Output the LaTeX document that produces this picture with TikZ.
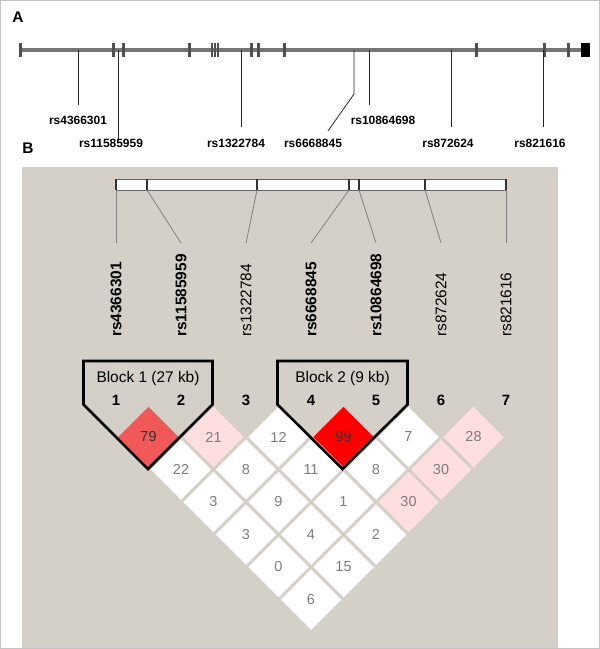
\documentclass[tikz,border=0pt]{standalone}
\usepackage{fontspec}
\setmainfont{Liberation Sans}
\usetikzlibrary{positioning,shapes.geometric}
\definecolor{panelgray}{RGB}{212,208,200}
\definecolor{framegray}{RGB}{196,196,196}
\definecolor{genegray}{RGB}{118,118,118}
\definecolor{exongray}{RGB}{80,80,80}
\definecolor{ldred}{RGB}{242,88,88}
\definecolor{ldpink}{RGB}{255,222,224}
\definecolor{numgray}{RGB}{125,125,125}
\begin{document}
\begin{tikzpicture}[x=1bp, y=-1bp,
    panel/.style={font=\fontsize{15.5}{16}\selectfont\bfseries, inner sep=0pt},
    snplabel/.style={font=\fontsize{12}{12}\selectfont\bfseries, inner sep=0pt},
    snpname/.style={font=\fontsize{15.5}{16}\selectfont, rotate=90, anchor=west, inner sep=0pt},
    ldcell/.style={shape=diamond, aspect=1, minimum size=65bp, inner sep=0pt,
        draw=panelgray, line width=2.2bp, font=\fontsize{14.5}{15}\selectfont, text=numgray},
    blockline/.style={line width=2.6bp, line join=miter},
    ]
    \useasboundingbox (0,0) rectangle (600,649);
    % frame and panel B background
    \fill [white] (0,0) rectangle (600,649);
    \fill [panelgray] (22,167) rectangle (558,648);
    \draw [framegray, line width=1bp] (0.5,0.5) rectangle (599.5,648.5);

    % panel A: gene structure
    \node [panel] (labA) at (18,17) {A};
    \draw [genegray, line width=3.4bp] (20,50) -- (586,50);
    \foreach \x in {20,113,123,189,251,258,284,476,544,568}
        \draw [exongray, line width=3bp] (\x,43) -- (\x,57);
    \foreach \x in {211.8,215,218.2}
        \draw [exongray, line width=1.7bp] (\x,43) -- (\x,57);
    \fill [black] (581,43) rectangle (590,57);

    \node [snplabel] (a1) at (78,120) {rs4366301};
    \node [snplabel] (a2) at (111,143) {rs11585959};
    \node [snplabel] (a3) at (236,143) {rs1322784};
    \node [snplabel] (a4) at (313,143) {rs6668845};
    \node [snplabel] (a5) at (383,120) {rs10864698};
    \node [snplabel] (a6) at (448,143) {rs872624};
    \node [snplabel] (a7) at (540,143) {rs821616};
    \coordinate (g1) at (78,50);  \coordinate (e1) at (78,105);
    \coordinate (g2) at (118,50); \coordinate (e2) at (118,141);
    \coordinate (g3) at (241,50); \coordinate (e3) at (241,127);
    \coordinate (g4) at (354,50); \coordinate (k4) at (354,94); \coordinate (e4) at (328,131);
    \coordinate (g5) at (369,50); \coordinate (e5) at (369,105);
    \coordinate (g6) at (451,50); \coordinate (e6) at (451,127);
    \coordinate (g7) at (543,50); \coordinate (e7) at (543,127);
    \foreach \n in {1,2,3,5,6,7}
        \draw [black!85, line width=0.8bp] (g\n) -- (e\n);
    \draw [black!85, line width=0.8bp] (g4) -- (k4) -- (e4);

    % panel B: marker map
    \node [panel] (labB) at (28,148) {B};
    \draw [fill=white, draw=black!60, line width=1bp] (116,179) rectangle (506,190);
    \foreach \x [count=\n] in {116,147,257,349,359,425,506} {
        \draw [black!80, line width=1.6bp] (\x,179) -- (\x,190);
        \coordinate (m\n) at (\x,190);
    }
    \foreach \n/\name/\w in {1/rs4366301/\bfseries, 2/rs11585959/\bfseries, 3/rs1322784/,
                             4/rs6668845/\bfseries, 5/rs10864698/\bfseries, 6/rs872624/, 7/rs821616/} {
        \pgfmathsetmacro{\xs}{116+65*(\n-1)}
        \node [snpname] (s\n) at (\xs,337) {\w\name};
        \coordinate (t\n) at (\xs,243);
        \draw [gray, line width=0.8bp] (m\n) -- (t\n);
        \node [font=\fontsize{15}{15}\selectfont\bfseries, inner sep=0pt] (n\n) at (\xs,400) {\n};
    }

    % LD matrix
    \foreach \i/\j/\v/\c/\t in {1/2/79/ldred/black!80, 2/3/21/ldpink/numgray, 3/4/12/white/numgray,
            4/5/99/red/black!80, 5/6/7/white/numgray, 6/7/28/ldpink/numgray,
            1/3/22/white/numgray, 2/4/8/white/numgray, 3/5/11/white/numgray,
            4/6/8/white/numgray, 5/7/30/ldpink/numgray,
            1/4/3/white/numgray, 2/5/9/white/numgray, 3/6/1/white/numgray, 4/7/30/ldpink/numgray,
            1/5/3/white/numgray, 2/6/4/white/numgray, 3/7/2/white/numgray,
            1/6/0/white/numgray, 2/7/15/white/numgray, 1/7/6/white/numgray} {
        \pgfmathsetmacro{\cx}{116+32.5*(\i+\j-2)}
        \pgfmathsetmacro{\cy}{437+32.5*(\j-\i-1)}
        \node [ldcell, fill=\c, text=\t] (c\i\j) at (\cx,\cy) {\v};
    }

    % haplotype blocks
    \draw [blockline] (83.5,361) -- (212.5,361) -- (212.5,404.5) -- (148,469) -- (83.5,404.5) -- cycle;
    \draw [blockline] (277.5,361) -- (407.5,361) -- (407.5,404.5) -- (342.5,469) -- (277.5,404.5) -- cycle;
    \node [font=\fontsize{15.5}{16}\selectfont, inner sep=0pt] (b1) at (148,378) {Block 1 (27 kb)};
    \node [font=\fontsize{15.5}{16}\selectfont, inner sep=0pt] (b2) at (342.5,378) {Block 2 (9 kb)};
\end{tikzpicture}
\end{document}
